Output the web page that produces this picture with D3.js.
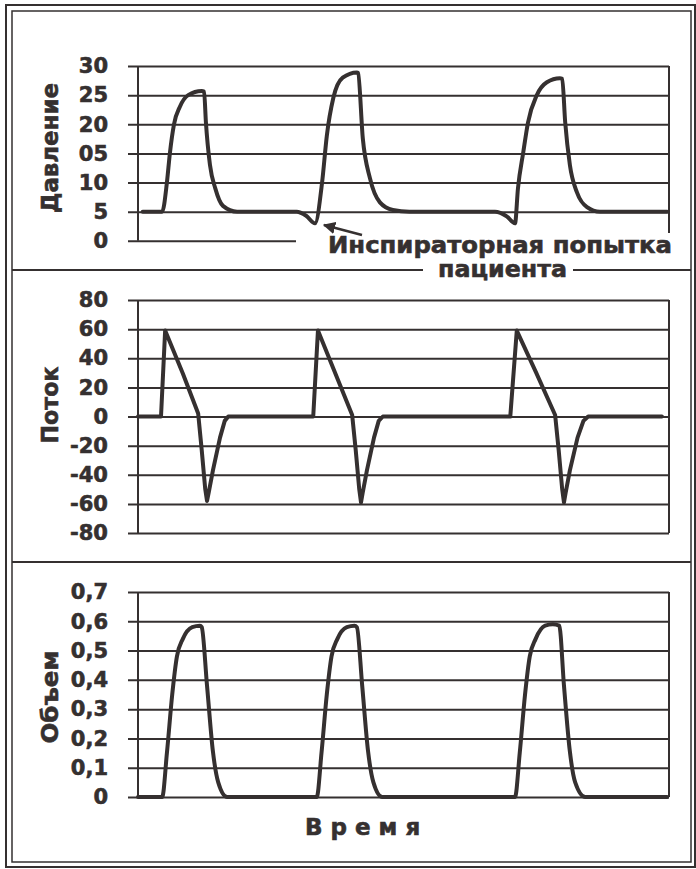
<!DOCTYPE html>
<html>
<head>
<meta charset="utf-8">
<script src="https://cdn.jsdelivr.net/npm/d3@7"></script>
<style>
  body { margin: 0; background: #fff; }
  text { font-family: "DejaVu Sans", sans-serif; font-weight: bold; fill: #353030; stroke: #353030; stroke-width: 0.6px; }
</style>
</head>
<body>
<script>
// time in seconds
const timeP = [0.08, 0.41, 0.49, 0.54, 0.61, 0.71, 0.85, 1.08, 1.12, 1.15, 1.22, 1.31, 1.44, 1.68,
  2.69, 2.85, 3.00, 3.12, 3.20, 3.31, 3.47, 3.71, 3.73, 3.81, 3.93, 4.10, 4.32, 4.60,
  6.05, 6.25, 6.39, 6.44, 6.53, 6.61, 6.76, 6.93, 7.15, 7.19, 7.24, 7.32, 7.44, 7.61, 7.83, 8.97];
const pressure = [5, 5, 10, 15, 20, 23, 25, 25.7, 25.6, 20.5, 13, 9, 6, 5,
  5, 4.3, 3, 10, 18, 24.5, 28, 28.9, 28.8, 17.6, 10.8, 6.6, 5.3, 5,
  5, 4.2, 3, 9, 15.2, 20.3, 25, 27.2, 27.9, 27.8, 20.4, 13, 8.3, 5.8, 5, 5];

const timeF = [0, 0.39, 0.46, 0.76, 1.02, 1.08, 1.14, 1.17, 1.20, 1.27, 1.39, 1.47, 1.53,
  2.97, 3.05, 3.34, 3.63, 3.69, 3.75, 3.78, 3.81, 3.88, 4.00, 4.08, 4.15,
  6.31, 6.42, 6.75, 7.07, 7.13, 7.19, 7.22, 7.25, 7.32, 7.45, 7.55, 7.63, 8.88];
const flow = [0, 0, 59, 29.5, 2, -23, -50, -58, -52, -37, -14.5, -3, 0,
  0, 59, 30, 1, -23, -50, -59, -52, -37, -14.5, -3, 0,
  0, 59, 30, 1, -23, -50, -59, -52, -37, -14.5, -3, 0, 0];

const timeV = [0, 0.41, 0.49, 0.58, 0.66, 0.76, 0.92, 1.05, 1.08, 1.17, 1.27, 1.36, 1.51,
  3.03, 3.11, 3.20, 3.28, 3.38, 3.54, 3.67, 3.71, 3.80, 3.90, 3.99, 4.14,
  6.39, 6.47, 6.56, 6.64, 6.74, 6.90, 7.03, 7.14, 7.22, 7.32, 7.41, 7.58, 8.97];
const volume = [0, 0, 0.15, 0.35, 0.48, 0.54, 0.58, 0.585, 0.58, 0.38, 0.155, 0.05, 0,
  0, 0.15, 0.35, 0.48, 0.54, 0.58, 0.585, 0.58, 0.38, 0.155, 0.05, 0,
  0, 0.15, 0.35, 0.48, 0.54, 0.585, 0.59, 0.585, 0.38, 0.155, 0.05, 0, 0];

const pressureTicks = [0, 5, 10, 15, 20, 25, 30];
const pressureTickLabels = ["0", "5", "10", "05", "20", "25", "30"];
const flowTicks = [-80, -60, -40, -20, 0, 20, 40, 60, 80];
const volumeTicks = [0, 0.1, 0.2, 0.3, 0.4, 0.5, 0.6, 0.7];
const volumeTickLabels = ["0", "0,1", "0,2", "0,3", "0,4", "0,5", "0,6", "0,7"];

const W = 696, H = 869, ink = "#353030";
const left = 138, right = 669, tickStart = 128;

const svg = d3.select("body").append("svg").attr("width", W).attr("height", H);

// double frame and separators
svg.append("rect").attr("x", 6).attr("y", 5).attr("width", 689).attr("height", 862)
  .attr("fill", "none").attr("stroke", ink).attr("stroke-width", 2);
svg.append("rect").attr("x", 12).attr("y", 11).attr("width", 679).attr("height", 851)
  .attr("fill", "none").attr("stroke", ink).attr("stroke-width", 1.5);
svg.append("line").attr("x1", 12).attr("x2", 691).attr("y1", 270).attr("y2", 270)
  .attr("stroke", ink).attr("stroke-width", 2);
svg.append("line").attr("x1", 12).attr("x2", 691).attr("y1", 562).attr("y2", 562)
  .attr("stroke", ink).attr("stroke-width", 2);

const x = d3.scaleLinear().domain([0, 9]).range([left, right]);

function panel(p) {
  const y = d3.scaleLinear().domain(p.domain).range(p.range);
  const g = svg.append("g");
  const axis = d3.axisLeft(y).tickValues(p.ticks)
    .tickSizeInner(-(right - tickStart)).tickSizeOuter(0).tickPadding(20)
    .tickFormat((d, i) => p.labels ? p.labels[i] : d);
  const ag = g.append("g").attr("transform", "translate(" + tickStart + ",0)").call(axis);
  ag.select(".domain").remove();
  ag.selectAll(".tick line").attr("stroke", ink).attr("stroke-width", 2);
  ag.selectAll(".tick text").attr("font-size", 21).attr("fill", ink)
    .attr("font-family", "DejaVu Sans").attr("font-weight", "bold");
  // left axis and right border of plot
  g.append("line").attr("x1", left).attr("x2", left).attr("y1", p.range[1]).attr("y2", p.range[0])
    .attr("stroke", ink).attr("stroke-width", 2);
  g.append("line").attr("x1", right).attr("x2", right).attr("y1", p.range[1]).attr("y2", p.range[0])
    .attr("stroke", ink).attr("stroke-width", 2);
  if (p.cover) p.cover(g);
  const line = d3.line().x(d => x(d[0])).y(d => y(d[1])).curve(p.curve || d3.curveMonotoneX);
  g.append("path").datum(d3.zip(p.t, p.v)).attr("d", line)
    .attr("fill", "none").attr("stroke", ink).attr("stroke-width", 4)
    .attr("stroke-linejoin", "round").attr("stroke-linecap", "round");
  g.append("text").attr("transform", "translate(58," + p.titleY + ") rotate(-90)")
    .attr("text-anchor", "middle").attr("font-size", 23)
    .attr("textLength", p.titleLen).attr("lengthAdjust", "spacingAndGlyphs").text(p.title);
  return y;
}

panel({
  domain: [0, 30], range: [240.8, 66], ticks: pressureTicks, labels: pressureTickLabels,
  t: timeP, v: pressure, title: "Давление", titleY: 148, titleLen: 130,
  cover: g => {
    // annotation sits over the bottom of the plot
    g.append("rect").attr("x", 296).attr("y", 233).attr("width", 390).attr("height", 28).attr("fill", "#fff");
    g.append("rect").attr("x", 423).attr("y", 262).attr("width", 150).attr("height", 20).attr("fill", "#fff");
  }
});
panel({
  domain: [-80, 80], range: [533, 300], ticks: flowTicks, curve: d3.curveLinear,
  t: timeF, v: flow, title: "Поток", titleY: 405, titleLen: 77
});
panel({
  domain: [0, 0.7], range: [797, 592], ticks: volumeTicks, labels: volumeTickLabels,
  t: timeV, v: volume, title: "Объем", titleY: 697, titleLen: 93
});

// annotation
svg.append("defs").append("marker").attr("id", "ah").attr("viewBox", "0 0 10 10")
  .attr("refX", 9).attr("refY", 5).attr("markerWidth", 5).attr("markerHeight", 5)
  .attr("orient", "auto").append("path").attr("d", "M0,0L10,5L0,10z").attr("fill", ink);
svg.append("line").attr("x1", 362).attr("y1", 235).attr("x2", 324).attr("y2", 225)
  .attr("stroke", ink).attr("stroke-width", 2.5).attr("marker-end", "url(#ah)");
svg.append("text").attr("x", 328).attr("y", 253).attr("font-size", 23)
  .attr("textLength", 344).attr("lengthAdjust", "spacingAndGlyphs").text("Инспираторная попытка");
svg.append("text").attr("x", 438).attr("y", 277).attr("font-size", 23)
  .attr("textLength", 129).attr("lengthAdjust", "spacingAndGlyphs").text("пациента");

svg.append("text").attr("x", 305).attr("y", 835).attr("font-size", 23)
  .attr("letter-spacing", 8).text("Время");
</script>
</body>
</html>
